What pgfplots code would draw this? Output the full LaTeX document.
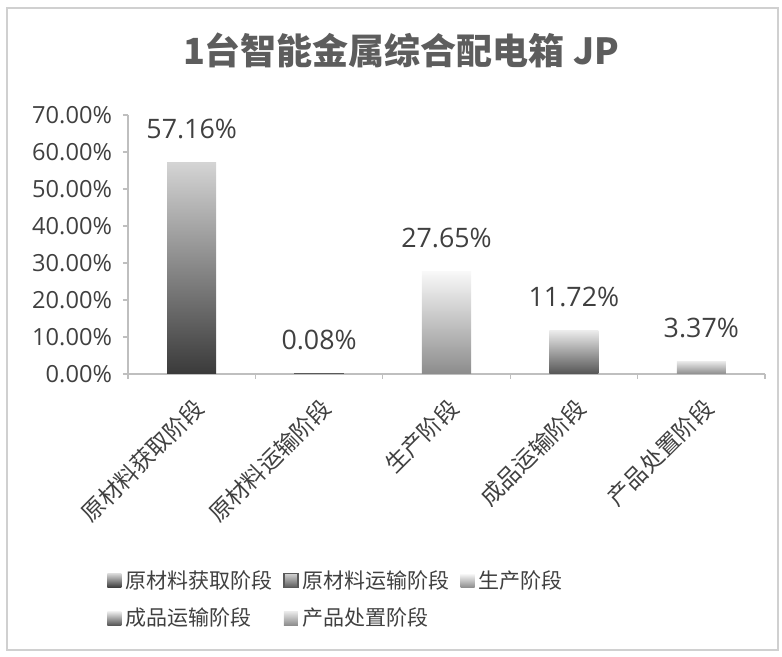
\documentclass[border=0pt]{standalone}
\usepackage{pgfplots}
\pgfplotsset{compat=1.18}
\usepackage{fontspec}
\setmainfont{Open Sans}
\newfontfamily\cjk{Noto Sans CJK SC}
\definecolor{txt}{HTML}{404040}
\definecolor{axg}{HTML}{BFBFBF}
\definecolor{frm}{HTML}{D0D0D0}
\definecolor{baat}{HTML}{D4D4D4}\definecolor{baam}{HTML}{666666}\definecolor{baab}{HTML}{3A3A3A}
\definecolor{bbbt}{HTML}{D0D0D0}\definecolor{bbbm}{HTML}{888888}\definecolor{bbbb}{HTML}{5A5A5A}
\definecolor{bcct}{HTML}{F8F8F8}\definecolor{bccm}{HTML}{C8C8C8}\definecolor{bccb}{HTML}{8C8C8C}
\definecolor{bddt}{HTML}{EBEBEB}\definecolor{bddm}{HTML}{8A8A8A}\definecolor{bddb}{HTML}{555555}
\definecolor{beet}{HTML}{E8E8E8}\definecolor{beem}{HTML}{B8B8B8}\definecolor{beeb}{HTML}{8C8C8C}
\pgfplotsset{
  mybar/.style={ybar, bar width=24.5pt, bar shift=0pt, draw=none,
    legend image code/.code={\path[##1] (0pt,-3.4pt) rectangle (7pt,3.4pt);},
    every node near coord/.append style={font=\fontsize{13.4pt}{16pt}\selectfont, text=txt, anchor=center, yshift=17pt}},
}
\begin{document}
\begin{tikzpicture}
\useasboundingbox (0,0) rectangle (391pt,328.5pt);
\draw[frm, line width=0.6pt] (3.5pt,3.5pt) rectangle (389pt,324.5pt);
\node[font=\cjk\bfseries\fontsize{18pt}{21pt}\selectfont, text=txt!85!white] at (200.5pt,303.5pt) {1台智能金属综合配电箱 JP};
\begin{axis}[
  at={(64pt,141.5pt)}, anchor=south west,
  scale only axis, width=318.5pt, height=129.5pt,
  xmin=-0.5, xmax=4.5, ymin=0, ymax=70,
  axis lines*=left, axis line style={axg, line width=0.6pt},
  xtick={0,1,2,3,4},
  xticklabels={原材料获取阶段,原材料运输阶段,生产阶段,成品运输阶段,产品处置阶段},
  xtick style={draw=none},
  extra x ticks={-0.5,0.5,1.5,2.5,3.5,4.5},
  extra x tick labels={},
  extra x tick style={xtick style={draw=axg, line width=0.6pt}},
  ytick={0,10,...,70},
  ytick style={draw=axg, line width=0.6pt},
  tick align=outside, major tick length=2.5pt,
  /pgf/number format/assume math mode=true,
  yticklabel={\pgfmathprintnumber[fixed,fixed zerofill,precision=2]{\tick}\%},
  yticklabel style={font=\fontsize{11.8pt}{14pt}\selectfont, text=txt, xshift=-2pt},
  xticklabel style={font=\cjk\fontsize{11.5pt}{13pt}\selectfont, text=txt, xshift=6.4pt, yshift=-9.8pt, rotate=45, anchor=east},
  nodes near coords={\pgfmathprintnumber[fixed,fixed zerofill,precision=2]{\pgfplotspointmeta}\%},
  legend columns=3,
  legend cell align=left,
  legend style={draw=none, fill=none, at={(-0.033,-0.741)}, anchor=north west,
    font=\cjk\fontsize{10.5pt}{12pt}\selectfont, text=txt,
    /tikz/every even column/.append style={column sep=3.5pt}, row sep=4.5pt, inner sep=0pt},
]
\addplot[mybar, top color=baat, middle color=baam, bottom color=baab] coordinates {(0,57.16)};
\addlegendentry{原材料获取阶段}
\addplot[mybar, top color=bbbt, middle color=bbbm, bottom color=bbbb, draw=bbbb, line width=0.6pt] coordinates {(1,0.08)};
\addlegendentry{原材料运输阶段}
\addplot[mybar, top color=bcct, middle color=bccm, bottom color=bccb] coordinates {(2,27.65)};
\addlegendentry{生产阶段}
\addplot[mybar, top color=bddt, middle color=bddm, bottom color=bddb] coordinates {(3,11.72)};
\addlegendentry{成品运输阶段}
\addplot[mybar, top color=beet, middle color=beem, bottom color=beeb] coordinates {(4,3.37)};
\addlegendentry{产品处置阶段}
\end{axis}
\end{tikzpicture}
\end{document}
